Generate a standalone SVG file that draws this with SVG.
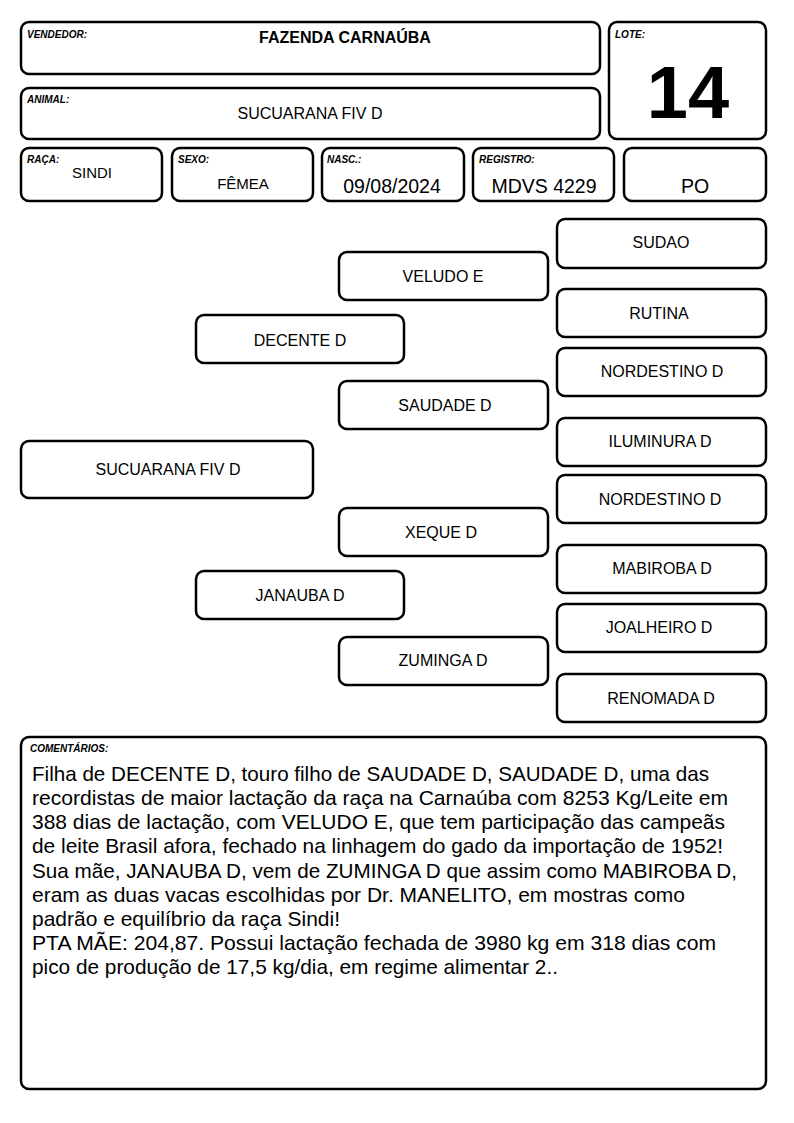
<svg xmlns="http://www.w3.org/2000/svg" width="794" height="1123" viewBox="0 0 794 1123">
<style>
.b{fill:#fff;stroke:#000;stroke-width:2.5}
text{font-family:"Liberation Sans",Arial,sans-serif;fill:#000}
.l{font-size:10px;font-weight:bold;font-style:italic}
.v{font-size:16px;text-anchor:middle}
.n{font-size:16px;text-anchor:middle}
.d{font-size:19.5px;text-anchor:middle}
.c{font-size:21px}
</style>
<rect width="794" height="1123" fill="#fff"/>
<g id="vendedor"><rect class="b" x="21" y="22" width="579" height="52" rx="8"/><text class="l" x="27" y="38">VENDEDOR:</text><text x="345" y="43" style="font-size:16px;font-weight:bold;text-anchor:middle">FAZENDA CARNAÚBA</text></g>
<g id="animal"><rect class="b" x="21" y="88" width="579" height="51" rx="8"/><text class="l" x="27" y="103">ANIMAL:</text><text class="v" x="310" y="119">SUCUARANA FIV D</text></g>
<g id="lote"><rect class="b" x="609" y="22" width="157" height="117" rx="8"/><text class="l" x="615" y="38">LOTE:</text><text x="688" y="118" style="font-size:74px;font-weight:bold;text-anchor:middle">14</text></g>
<g id="raca"><rect class="b" x="21" y="148" width="141" height="53" rx="8"/><text class="l" x="27" y="163">RAÇA:</text><text x="92" y="178" style="font-size:15px;text-anchor:middle">SINDI</text></g>
<g id="sexo"><rect class="b" x="172" y="148" width="141" height="53" rx="8"/><text class="l" x="178" y="163">SEXO:</text><text x="243" y="189" style="font-size:15px;text-anchor:middle">FÊMEA</text></g>
<g id="nasc"><rect class="b" x="322" y="148" width="142" height="53" rx="8"/><text class="l" x="327" y="163">NASC.:</text><text class="d" x="392" y="193">09/08/2024</text></g>
<g id="registro"><rect class="b" x="473" y="148" width="141" height="53" rx="8"/><text class="l" x="479" y="163">REGISTRO:</text><text class="d" x="544" y="193">MDVS 4229</text></g>
<g id="po"><rect class="b" x="624" y="148" width="142" height="53" rx="8"/><text class="d" x="695" y="193">PO</text></g>
<g id="connectors"></g>
<g id="n-sudao"><rect class="b" x="557" y="219" width="209" height="49" rx="8"/><text class="n" x="661" y="248">SUDAO</text></g>
<g id="n-veludo"><rect class="b" x="339" y="252" width="209" height="48" rx="8"/><text class="n" x="443" y="282">VELUDO E</text></g>
<g id="n-rutina"><rect class="b" x="557" y="289" width="209" height="48" rx="8"/><text class="n" x="659" y="319">RUTINA</text></g>
<g id="n-decente"><rect class="b" x="196" y="315" width="208" height="48" rx="8"/><text class="n" x="300" y="346">DECENTE D</text></g>
<g id="n-nordestino1"><rect class="b" x="557" y="348" width="209" height="48" rx="8"/><text class="n" x="662" y="377">NORDESTINO D</text></g>
<g id="n-saudade"><rect class="b" x="339" y="381" width="209" height="48" rx="8"/><text class="n" x="445" y="411">SAUDADE D</text></g>
<g id="n-iluminura"><rect class="b" x="557" y="418" width="209" height="48" rx="8"/><text class="n" x="660" y="447">ILUMINURA D</text></g>
<g id="n-sucuarana"><rect class="b" x="21" y="441" width="292" height="57" rx="8"/><text class="n" x="168" y="475">SUCUARANA FIV D</text></g>
<g id="n-nordestino2"><rect class="b" x="557" y="475" width="209" height="48" rx="8"/><text class="n" x="660" y="505">NORDESTINO D</text></g>
<g id="n-xeque"><rect class="b" x="339" y="508" width="209" height="48" rx="8"/><text class="n" x="441" y="538">XEQUE D</text></g>
<g id="n-mabiroba"><rect class="b" x="557" y="545" width="209" height="48" rx="8"/><text class="n" x="662" y="574">MABIROBA D</text></g>
<g id="n-janauba"><rect class="b" x="196" y="571" width="208" height="48" rx="8"/><text class="n" x="300" y="601">JANAUBA D</text></g>
<g id="n-joalheiro"><rect class="b" x="557" y="604" width="209" height="48" rx="8"/><text class="n" x="659" y="633">JOALHEIRO D</text></g>
<g id="n-zuminga"><rect class="b" x="339" y="637" width="209" height="48" rx="8"/><text class="n" x="443" y="666">ZUMINGA D</text></g>
<g id="n-renomada"><rect class="b" x="557" y="674" width="209" height="48" rx="8"/><text class="n" x="661" y="704">RENOMADA D</text></g>
<g id="comentarios"><rect class="b" x="21" y="737" width="745" height="352" rx="8"/><text class="l" x="30" y="752">COMENTÁRIOS:</text>
<text class="c" x="32" y="781" textLength="677" lengthAdjust="spacingAndGlyphs">Filha de DECENTE D, touro filho de SAUDADE D, SAUDADE D, uma das</text>
<text class="c" x="32" y="805" textLength="696" lengthAdjust="spacingAndGlyphs">recordistas de maior lactação da raça na Carnaúba com 8253 Kg/Leite em</text>
<text class="c" x="32" y="829" textLength="693" lengthAdjust="spacingAndGlyphs">388 dias de lactação, com VELUDO E, que tem participação das campeãs</text>
<text class="c" x="32" y="853" textLength="691" lengthAdjust="spacingAndGlyphs">de leite Brasil afora, fechado na linhagem do gado da importação de 1952!</text>
<text class="c" x="32" y="878" textLength="705" lengthAdjust="spacingAndGlyphs">Sua mãe, JANAUBA D, vem de ZUMINGA D que assim como MABIROBA D,</text>
<text class="c" x="32" y="902" textLength="653" lengthAdjust="spacingAndGlyphs">eram as duas vacas escolhidas por Dr. MANELITO, em mostras como</text>
<text class="c" x="32" y="926" textLength="308" lengthAdjust="spacingAndGlyphs">padrão e equilíbrio da raça Sindi!</text>
<text class="c" x="32" y="950" textLength="684" lengthAdjust="spacingAndGlyphs">PTA MÃE: 204,87. Possui lactação fechada de 3980 kg em 318 dias com</text>
<text class="c" x="32" y="974" textLength="526" lengthAdjust="spacingAndGlyphs">pico de produção de 17,5 kg/dia, em regime alimentar 2..</text>
</g>
</svg>
